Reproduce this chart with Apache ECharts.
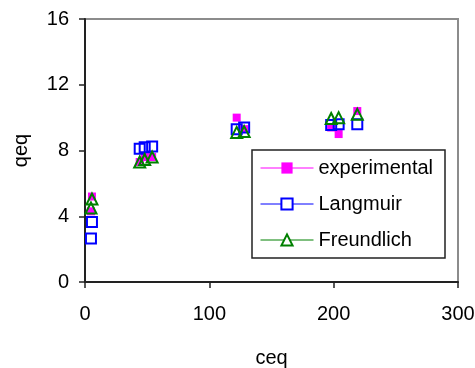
<!DOCTYPE html>
<html>
<head>
<meta charset="utf-8">
<script src="https://cdn.jsdelivr.net/npm/echarts@6/dist/echarts.min.js"></script>
<style>html,body{margin:0;padding:0;background:#fff}#c{width:475px;height:368px}</style>
</head>
<body>
<div id="c"></div>
<script>
const ceq = [4.8, 5.6, 44, 48, 54, 122, 128, 198, 204, 219];
const experimental = [4.3, 5.2, 7.3, 7.6, 7.6, 10.0, 9.3, 9.4, 9.0, 10.4];
const langmuir = [2.65, 3.65, 8.1, 8.2, 8.25, 9.3, 9.4, 9.55, 9.6, 9.6];
const freundlich = [4.5, 5.05, 7.3, 7.45, 7.6, 9.1, 9.15, 9.95, 10.0, 10.2];
const xTicks = [0, 100, 200, 300];
const yTicks = [0, 4, 8, 12, 16];

const pair = (ys) => ceq.map((x, i) => [x, ys[i]]);
const FONT = 'Liberation Sans, Arial, sans-serif';

const chart = echarts.init(document.getElementById('c'), null, {renderer: 'canvas'});
chart.setOption({
  animation: false,
  backgroundColor: '#fff',
  textStyle: {fontFamily: FONT, color: '#000'},
  grid: {left: 85, right: 17, top: 19, bottom: 86, containLabel: false, outerBoundsMode: 'none', show: true, borderColor: '#8c8c8c', borderWidth: 2, backgroundColor: 'transparent'},
  xAxis: {
    type: 'value', min: xTicks[0], max: xTicks[xTicks.length - 1], interval: 100,
    name: 'ceq', nameLocation: 'middle', nameGap: 66,
    nameTextStyle: {fontSize: 20, color: '#000', fontFamily: FONT},
    axisLine: {show: true, lineStyle: {color: '#222', width: 2}},
    axisTick: {show: true, inside: false, length: 6, lineStyle: {color: '#222', width: 1.5}},
    axisLabel: {fontSize: 20, color: '#000', margin: 22, fontFamily: FONT},
    splitLine: {show: false}
  },
  yAxis: {
    type: 'value', min: yTicks[0], max: yTicks[yTicks.length - 1], interval: 4,
    name: 'qeq', nameLocation: 'middle', nameGap: 54, nameRotate: 90,
    nameTextStyle: {fontSize: 20, color: '#000', fontFamily: FONT},
    axisLine: {show: true, lineStyle: {color: '#222', width: 2}},
    axisTick: {show: true, inside: false, length: 6, lineStyle: {color: '#222', width: 1.5}},
    axisLabel: {fontSize: 20, color: '#000', margin: 16, fontFamily: FONT},
    splitLine: {show: false}
  },
  legend: {
    orient: 'vertical', left: 252, top: 150,
    padding: [8, 12, 8, 8],
    itemWidth: 53, itemHeight: 14, itemGap: 16,
    borderColor: '#222', borderWidth: 1.5, backgroundColor: '#fff',
    textStyle: {fontSize: 20, color: '#000', fontFamily: FONT},
    lineStyle: {width: 1, opacity: 1, type: 'solid'},
    data: [
      {name: 'experimental'},
      {name: 'Langmuir', itemStyle: {color: '#fff'}},
      {name: 'Freundlich', itemStyle: {color: '#fff'}}
    ]
  },
  series: [
    {
      name: 'experimental', type: 'line', data: pair(experimental),
      symbol: 'rect', symbolSize: 8,
      itemStyle: {color: '#ff00ff', borderWidth: 0},
      lineStyle: {color: '#ff00ff', width: 1, opacity: 0}
    },
    {
      name: 'Langmuir', type: 'line', data: pair(langmuir),
      symbol: 'rect', symbolSize: 10,
      itemStyle: {color: 'rgba(255,255,255,0)', borderColor: '#0000ff', borderWidth: 2},
      lineStyle: {color: '#0000ff', width: 1, opacity: 0}
    },
    {
      name: 'Freundlich', type: 'line', data: pair(freundlich),
      symbol: 'triangle', symbolSize: 11,
      itemStyle: {color: 'rgba(255,255,255,0)', borderColor: '#008000', borderWidth: 2},
      lineStyle: {color: '#008000', width: 1, opacity: 0}
    }
  ]
});
</script>
</body>
</html>
